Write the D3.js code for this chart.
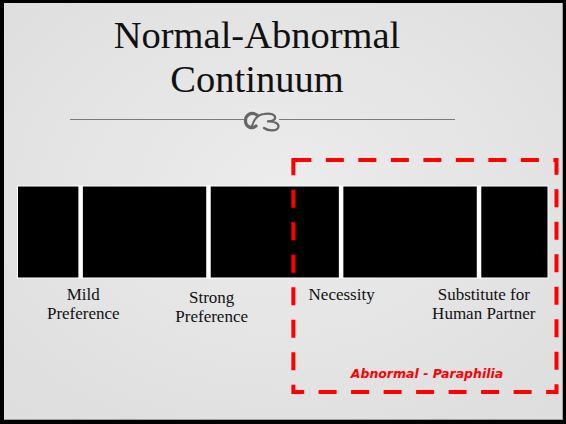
<!DOCTYPE html>
<html>
<head>
<meta charset="utf-8">
<script src="https://cdn.jsdelivr.net/npm/d3@7"></script>
<style>
  html, body { margin: 0; padding: 0; background: #000; }
  svg { display: block; }
</style>
</head>
<body>
<div id="chart"></div>
<script>
// continuum stages (0 = fully normal, 1 = fully abnormal)
const stages = ["Mild Preference", "Strong Preference", "Necessity", "Substitute for Human Partner"];
const stageLines = [["Mild", "Preference"], ["Strong", "Preference"], ["Necessity"], ["Substitute for", "Human Partner"]];
const dividerPos = [0.119, 0.36, 0.61, 0.87];
const labelPos = [0.124, 0.366, 0.611, 0.879];
const abnormalRange = [0.52, 1.016];
const abnormalLabel = "Abnormal - Paraphilia";
const titleLines = ["Normal-Abnormal", "Continuum"];

const width = 566, height = 424;

const svg = d3.select("#chart").append("svg")
  .attr("width", width)
  .attr("height", height)
  .attr("viewBox", [0, 0, width, height]);

const defs = svg.append("defs");
const grad = defs.append("radialGradient").attr("id", "bg")
  .attr("cx", "50%").attr("cy", "45%").attr("r", "70%");
grad.append("stop").attr("offset", "0%").attr("stop-color", "#ececec");
grad.append("stop").attr("offset", "100%").attr("stop-color", "#dedede");

// slide with black frame
svg.append("rect").attr("width", width).attr("height", height).attr("fill", "#000");
svg.append("rect")
  .attr("x", 4).attr("y", 3)
  .attr("width", 559).attr("height", 417)
  .attr("fill", "#a0a0a0");
svg.append("rect")
  .attr("x", 4).attr("y", 3)
  .attr("width", 558).attr("height", 416)
  .attr("fill", "url(#bg)");

// title
svg.append("g")
  .selectAll("text")
  .data(titleLines)
  .join("text")
  .attr("x", 257)
  .attr("y", (d, i) => 48 + i * 44)
  .attr("text-anchor", "middle")
  .attr("font-family", "'Liberation Serif', serif")
  .attr("font-size", 38.5)
  .attr("fill", "#111")
  .text(d => d);

// ornament rule with a little flourish in the middle
svg.append("line")
  .attr("x1", 70).attr("x2", 455)
  .attr("y1", 119.5).attr("y2", 119.5)
  .attr("stroke", "#7a7a7a").attr("stroke-width", 1.2);
svg.append("rect")
  .attr("x", 246).attr("y", 110).attr("width", 33).attr("height", 22)
  .attr("fill", "#e9e9e9");
const orn = svg.append("g")
  .attr("fill", "none")
  .attr("stroke", "#666")
  .attr("stroke-linecap", "round");
orn.append("path")
  .attr("stroke-width", 3.2)
  .attr("d", "M257,115 C251,111 245,115 245.5,121.5 C246,127.5 252,129 256,126");
orn.append("path")
  .attr("stroke-width", 2.2)
  .attr("d", "M252,126 C254,119 258,114.5 264,114 C270,113 276,114 275,118.5 C274,121 270,121.5 267,121.5 C275,121 280,124 278,128 C276,131.5 268,131 264,128");

// continuum bar
const x = d3.scaleLinear([0, 1], [17.5, 548]);
const barTop = 186, barBottom = 278;

svg.append("rect")
  .attr("x", x(0)).attr("y", barTop)
  .attr("width", x(1) - x(0)).attr("height", barBottom - barTop)
  .attr("fill", "#000")
  .attr("stroke", "#fff").attr("stroke-width", 1);

svg.append("g")
  .selectAll("line")
  .data(dividerPos)
  .join("line")
  .attr("x1", d => x(d)).attr("x2", d => x(d))
  .attr("y1", barTop).attr("y2", barBottom)
  .attr("stroke", "#fff")
  .attr("stroke-width", 4.5);

// stage labels
svg.append("g")
  .selectAll("text")
  .data(stages)
  .join("text")
  .attr("x", (d, i) => x(labelPos[i]))
  .attr("y", (d, i) => (i === 1 ? 303 : 300))
  .attr("text-anchor", "middle")
  .attr("font-family", "'Liberation Serif', serif")
  .attr("font-size", 17)
  .attr("fill", "#111")
  .each(function(d, i) {
    d3.select(this).selectAll("tspan")
      .data(stageLines[i])
      .join("tspan")
      .attr("x", x(labelPos[i]))
      .attr("dy", (t, j) => (j === 0 ? 0 : 18.5))
      .text(t => t);
  });

// abnormal region
svg.append("rect")
  .attr("x", x(abnormalRange[0])).attr("y", 160)
  .attr("width", x(abnormalRange[1]) - x(abnormalRange[0]))
  .attr("height", 232)
  .attr("fill", "none")
  .attr("stroke", "#ff0000")
  .attr("stroke-width", 4)
  .attr("stroke-dasharray", "18 14.5");

svg.append("text")
  .attr("x", 427).attr("y", 377.5)
  .attr("text-anchor", "middle")
  .attr("font-family", "'DejaVu Sans', sans-serif")
  .attr("font-style", "italic")
  .attr("font-weight", "bold")
  .attr("font-size", 12.5)
  .attr("fill", "#ff0000")
  .text(abnormalLabel);
</script>
</body>
</html>
